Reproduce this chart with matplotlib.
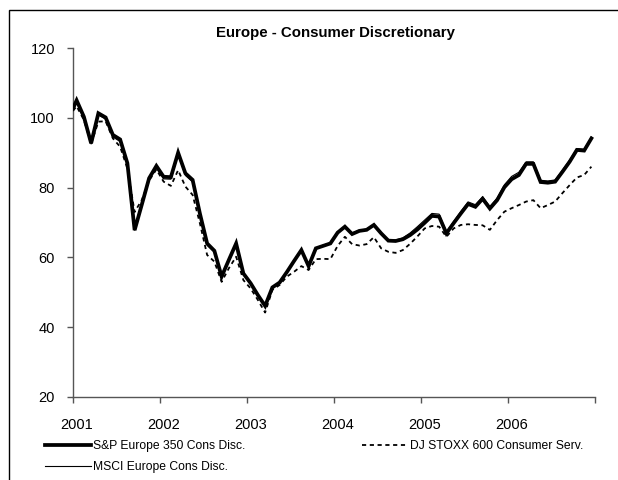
import numpy as np
import matplotlib
matplotlib.use("Agg")
import matplotlib.pyplot as plt
from matplotlib.patches import Rectangle

plt.rcParams['font.family'] = ['Liberation Sans', 'DejaVu Sans']
plt.rcParams['lines.scale_dashes'] = False

# monthly index values, first value is the starting level
sp_europe = [102.7, 105.0, 100.3, 92.7, 101.3, 100.1, 95.1, 93.8, 87.0, 67.8, 75.2, 82.7, 86.2,
             83.1, 83.0, 90.0, 84.1, 82.2, 72.6, 64.0, 61.9, 54.5, 59.3, 64.0, 55.4,
             52.6, 49.2, 46.1, 51.4, 52.8, 55.8, 59.0, 62.1, 57.5, 62.6, 63.3, 64.0,
             67.1, 68.8, 66.7, 67.6, 67.9, 69.3, 66.9, 64.8, 64.7, 65.2, 66.4, 68.0,
             69.9, 71.9, 71.7, 66.9, 69.8, 72.6, 75.3, 74.5, 76.8, 74.0, 76.4, 80.1,
             82.4, 83.6, 86.8, 86.8, 81.6, 81.4, 81.7, 84.5, 87.4, 90.8, 90.6, 94.1]

msci_europe = [102.0, 104.5, 99.8, 92.5, 100.8, 99.6, 94.5, 93.2, 86.5, 67.8, 75.0, 82.3, 85.8,
               82.5, 82.4, 89.5, 83.5, 81.6, 72.2, 63.5, 61.5, 54.2, 59.0, 63.6, 55.2,
               52.4, 49.0, 46.0, 51.3, 52.8, 55.8, 59.0, 62.0, 57.6, 62.7, 63.5, 64.2,
               67.3, 69.0, 67.0, 67.8, 68.1, 69.5, 67.1, 65.0, 65.0, 65.6, 67.0, 68.8,
               70.7, 72.6, 72.4, 67.3, 70.3, 73.2, 75.9, 75.1, 77.4, 74.6, 77.0, 80.8,
               83.2, 84.4, 87.4, 87.4, 82.1, 81.9, 82.2, 85.0, 87.9, 91.2, 91.0, 94.5]

dj_stoxx = [102.0, 103.3, 99.4, 92.5, 98.9, 99.0, 94.1, 91.7, 85.5, 73.0, 76.5, 82.0, 85.2,
            81.7, 80.5, 85.0, 80.3, 77.9, 69.8, 60.7, 58.8, 53.0, 56.9, 60.2, 53.5,
            51.1, 47.8, 44.2, 50.7, 52.1, 54.5, 55.9, 57.5, 56.4, 59.5, 59.6, 59.5,
            63.3, 65.9, 63.8, 63.4, 63.8, 65.8, 62.6, 61.6, 61.3, 62.1, 63.9, 66.0,
            68.3, 69.0, 68.8, 65.9, 68.3, 69.3, 69.5, 69.3, 69.2, 67.9, 70.7, 73.1,
            74.1, 75.0, 76.0, 76.4, 74.1, 75.0, 76.0, 78.4, 80.7, 82.9, 83.6, 86.0]

years = ['2001', '2002', '2003', '2004', '2005', '2006']

# start level at the axis, then one point per month in the middle of each month
n_months = len(sp_europe) - 1
x = np.concatenate([[0.0], np.arange(n_months) + 0.5])

fig = plt.figure(figsize=(6.18, 4.80), dpi=100)
ax = fig.add_axes([73 / 618, 83 / 480, 522 / 618, 349 / 480])

l_sp, = ax.plot(x, sp_europe, color='black', linewidth=2.7, label='S&P Europe 350 Cons Disc.',
                solid_joinstyle='miter', zorder=3)
l_msci, = ax.plot(x, msci_europe, color='black', linewidth=0.8, label='MSCI Europe Cons Disc.',
                  zorder=4)
l_dj, = ax.plot(x, dj_stoxx, color='black', linewidth=1.3, dashes=(3, 2.6),
                label='DJ STOXX 600 Consumer Serv.', zorder=2)

ax.set_xlim(0, n_months)
ax.set_ylim(20, 120)
ax.set_yticks(np.arange(20, 121, 20))

ax.set_xticks(np.arange(0, n_months + 1, 12))
ax.set_xticklabels([])
ax.set_xticks(np.arange(len(years)) * 12 + 0.5, minor=True)
ax.set_xticklabels(years, minor=True)
ax.tick_params(axis='x', which='major', direction='out', length=4, width=1, color='#555555')
ax.tick_params(axis='x', which='minor', length=0, pad=15, labelsize=10.5)
ax.tick_params(axis='y', direction='out', length=4, width=1, color='#555555', pad=9, labelsize=10.5)

for side in ['top', 'right']:
    ax.spines[side].set_visible(False)
for side in ['left', 'bottom']:
    ax.spines[side].set_color('#555555')
    ax.spines[side].set_linewidth(1)

fig.text(336 / 618, 1 - 33 / 480, 'Europe - Consumer Discretionary', ha='center', va='center',
         fontsize=10.8, fontweight='bold')

leg_opts = dict(loc='upper left', bbox_transform=fig.transFigure, frameon=False, fontsize=8.7,
                handlelength=3.8, handletextpad=0.15, labelspacing=0.75,
                borderpad=0, borderaxespad=0)
leg1 = ax.legend(handles=[l_sp, l_msci], bbox_to_anchor=(45 / 618, 1 - 440 / 480), **leg_opts)
ax.add_artist(leg1)
ax.legend(handles=[l_dj], bbox_to_anchor=(362 / 618, 1 - 440 / 480), **leg_opts)

# outer frame of the chart area
fig.patches.append(Rectangle((9 / 618, -0.1), 1.2, 1 - 10 / 480 + 0.1, transform=fig.transFigure,
                             fill=False, edgecolor='black', linewidth=1))

fig.savefig('out.png', dpi=100)
